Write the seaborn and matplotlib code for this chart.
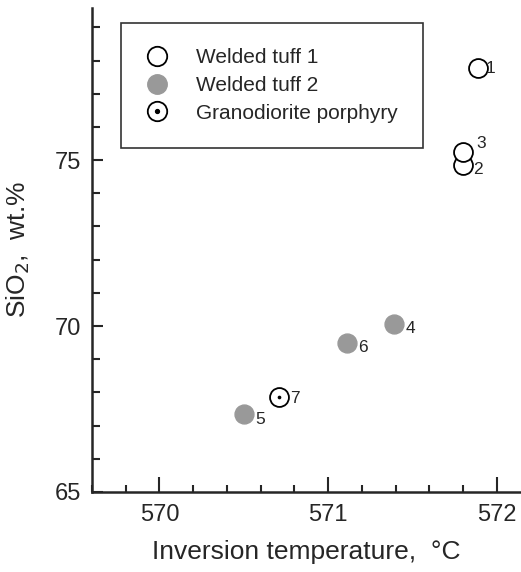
import numpy as np
import pandas as pd
import matplotlib
matplotlib.use('Agg')
import matplotlib.pyplot as plt
import seaborn as sns
from matplotlib.lines import Line2D
from matplotlib.legend_handler import HandlerTuple
from matplotlib.ticker import MultipleLocator

# data
sample = ['1', '2', '3', '4', '5', '6', '7']
temp = [571.89, 571.80, 571.80, 571.39, 570.50, 571.11, 570.71]
sio2 = [77.77, 74.85, 75.24, 70.06, 67.35, 69.49, 67.86]
rock = ['Welded tuff 1', 'Welded tuff 1', 'Welded tuff 1',
        'Welded tuff 2', 'Welded tuff 2', 'Welded tuff 2',
        'Granodiorite porphyry']
groups = ['Welded tuff 1', 'Welded tuff 2', 'Granodiorite porphyry']

df = pd.DataFrame({'sample': sample, 'temp': temp, 'sio2': sio2, 'rock': rock})

sns.set_style('ticks')
plt.rcParams['font.family'] = ['Liberation Sans', 'DejaVu Sans']

fig = plt.figure(figsize=(5.21, 5.72), dpi=100)
ax = fig.add_axes([0.1766, 0.1399, 0.822, 0.846])

grey = '#999999'
msize = 185

# welded tuff 1: open circles
sns.scatterplot(data=df[df.rock == groups[0]], x='temp', y='sio2', ax=ax,
                marker='o', s=msize, facecolor='white', edgecolor='black',
                linewidth=1.3, legend=False, zorder=3)
# welded tuff 2: grey filled
sns.scatterplot(data=df[df.rock == groups[1]], x='temp', y='sio2', ax=ax,
                marker='o', s=msize, color=grey, edgecolor=grey,
                linewidth=1.0, legend=False, zorder=3)
# granodiorite porphyry: circle with a dot
gp = df[df.rock == groups[2]]
sns.scatterplot(data=gp, x='temp', y='sio2', ax=ax,
                marker='o', s=msize, facecolor='white', edgecolor='black',
                linewidth=1.3, legend=False, zorder=3)
sns.scatterplot(data=gp, x='temp', y='sio2', ax=ax,
                marker='o', s=7, color='black', edgecolor='black',
                linewidth=0, legend=False, zorder=4)

# sample numbers (offsets in points)
offsets = {'1': (9, 0), '2': (11, -3), '3': (13, 6), '4': (12, -3),
           '5': (12, -4), '6': (12, -3), '7': (11, -1)}
for _, r in df.iterrows():
    ax.annotate(r['sample'], (r['temp'], r['sio2']), xytext=offsets[r['sample']],
                textcoords='offset points', ha='center', va='center', fontsize=12.5)

ax.set_xlim(569.60, 572.14)
ax.set_ylim(65, 79.58)
ax.xaxis.set_major_locator(MultipleLocator(1))
ax.xaxis.set_minor_locator(MultipleLocator(0.2))
ax.yaxis.set_major_locator(MultipleLocator(5))
ax.yaxis.set_minor_locator(MultipleLocator(1))
ax.tick_params(which='both', direction='in', width=1.5, labelsize=17)
ax.tick_params(axis='x', which='major', length=11, pad=9)
ax.tick_params(axis='x', which='minor', length=5)
ax.tick_params(axis='y', which='major', length=8, pad=8)
ax.tick_params(axis='y', which='minor', length=6)

sns.despine(ax=ax)
for sp in ['left', 'bottom']:
    ax.spines[sp].set_linewidth(1.8)

ax.set_xlabel('Inversion temperature,  °C', fontsize=19, labelpad=10)
ax.set_ylabel('SiO$_2$,  wt.%', fontsize=19, labelpad=16)

h1 = Line2D([], [], marker='o', ls='', ms=14, mfc='white', mec='black', mew=1.3)
h2 = Line2D([], [], marker='o', ls='', ms=14, mfc=grey, mec=grey)
h3a = Line2D([], [], marker='o', ls='', ms=14, mfc='white', mec='black', mew=1.3)
h3b = Line2D([], [], marker='o', ls='', ms=2.8, mfc='black', mec='black')
leg = ax.legend([h1, h2, (h3a, h3b)], groups,
                handler_map={tuple: HandlerTuple(ndivide=1, pad=0)},
                loc='upper left', bbox_to_anchor=(0.068, 0.969),
                fontsize=15, frameon=True, fancybox=False, edgecolor='black',
                borderpad=1.2, labelspacing=0.42, handlelength=1.0,
                handletextpad=1.4, borderaxespad=0)
leg.get_frame().set_linewidth(1.2)

fig.savefig('out.png', dpi=100)
